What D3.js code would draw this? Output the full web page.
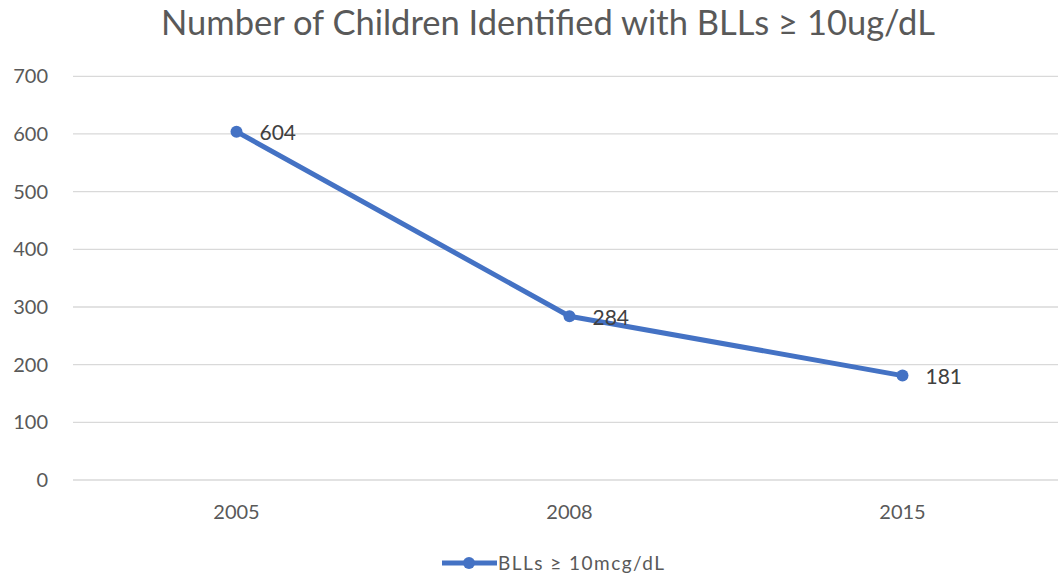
<!DOCTYPE html>
<html>
<head>
<meta charset="utf-8">
<script src="https://cdn.jsdelivr.net/npm/d3@7"></script>
<style>
  html, body { margin: 0; padding: 0; background: #fff; }
  svg { display: block; font-family: Lato, 'Open Sans', sans-serif; }
</style>
</head>
<body>
<svg id="chart" width="1058" height="575"></svg>
<script>
const years = ['2005', '2008', '2015']
const counts = [604, 284, 181]
const yTicks = [0, 100, 200, 300, 400, 500, 600, 700]
const title = 'Number of Children Identified with BLLs \u2265 10ug/dL'
const seriesName = 'BLLs \u2265 10mcg/dL'

const svg = d3.select('#chart')
const blue = '#4472C4'
const textColor = '#595959'

const x = d3.scaleBand()
  .domain(years)
  .range([70, 1069])

const y = d3.scaleLinear()
  .domain([0, 700])
  .range([480, 76.3])

// Title
svg.append('text')
  .attr('x', 548)
  .attr('y', 35)
  .attr('text-anchor', 'middle')
  .attr('fill', textColor)
  .style('font-size', '34.5px')
  .text(title)

// Gridlines
svg.append('g')
  .selectAll('line')
  .data(yTicks)
  .join('line')
  .attr('x1', 73)
  .attr('x2', 1069)
  .attr('y1', d => y(d))
  .attr('y2', d => y(d))
  .attr('stroke', '#d9d9d9')
  .attr('stroke-width', 1.3)

// Y axis labels
svg.append('g')
  .selectAll('text')
  .data(yTicks)
  .join('text')
  .attr('x', 48)
  .attr('y', d => y(d))
  .attr('dy', '0.35em')
  .attr('text-anchor', 'end')
  .attr('fill', textColor)
  .style('font-size', '20px')
  .text(d => d)

// X axis labels
svg.append('g')
  .selectAll('text')
  .data(years)
  .join('text')
  .attr('x', d => x(d) + x.bandwidth() / 2)
  .attr('y', 512)
  .attr('dy', '0.35em')
  .attr('text-anchor', 'middle')
  .attr('fill', textColor)
  .style('font-size', '20px')
  .text(d => d)

const pts = years.map((yr, i) => ({ yr, v: counts[i] }))
const cx = d => x(d.yr) + x.bandwidth() / 2

// Line
svg.append('path')
  .datum(pts)
  .attr('fill', 'none')
  .attr('stroke', blue)
  .attr('stroke-width', 5)
  .attr('stroke-linejoin', 'round')
  .attr('d', d3.line().x(cx).y(d => y(d.v)))

// Markers
svg.append('g')
  .selectAll('circle')
  .data(pts)
  .join('circle')
  .attr('cx', cx)
  .attr('cy', d => y(d.v))
  .attr('r', 6)
  .attr('fill', blue)

// Data labels
svg.append('g')
  .selectAll('text')
  .data(pts)
  .join('text')
  .attr('x', d => cx(d) + 23)
  .attr('y', d => y(d.v) + 1)
  .attr('dy', '0.35em')
  .attr('fill', '#404040')
  .style('font-size', '21px')
  .text(d => d.v)

// Legend
const legend = svg.append('g')
legend.append('line')
  .attr('x1', 442)
  .attr('x2', 497)
  .attr('y1', 563)
  .attr('y2', 563)
  .attr('stroke', blue)
  .attr('stroke-width', 5)
legend.append('circle')
  .attr('cx', 469)
  .attr('cy', 563)
  .attr('r', 6)
  .attr('fill', blue)
legend.append('text')
  .attr('x', 498)
  .attr('y', 563)
  .attr('dy', '0.35em')
  .attr('fill', textColor)
  .attr('textLength', 166)
  .attr('lengthAdjust', 'spacing')
  .style('font-size', '19px')
  .text(seriesName)
</script>
</body>
</html>
